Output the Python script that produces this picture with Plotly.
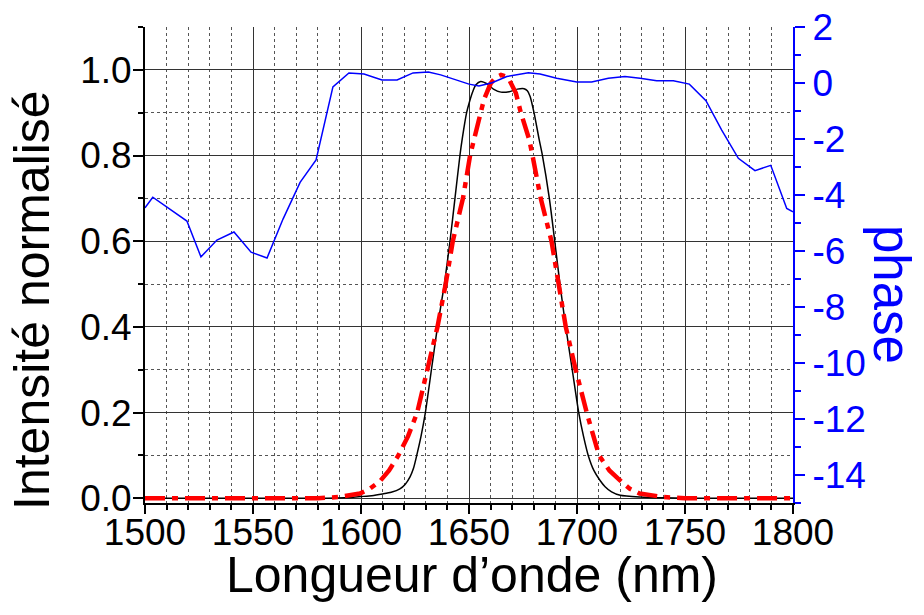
import plotly.graph_objects as go

# Simulated filter transmission (black solid line)
wl_sim = [1500, 1580, 1595, 1600, 1605, 1610, 1614, 1618, 1620.5, 1622.7, 1624.3,
          1625.8, 1627.8, 1629.8, 1632.6, 1635.4, 1638.6, 1641.2, 1643.5, 1645.8,
          1646.9, 1648.9, 1650.2, 1651.5, 1653.2, 1655.4, 1658.5, 1661.3, 1664.8,
          1668.6, 1672.4, 1675.5, 1677.0, 1678.3, 1680.1, 1682.5, 1684.0, 1687.2,
          1689.7, 1692.1, 1694.8, 1697.8, 1700.8, 1703.0, 1705.2, 1707.8, 1710.6,
          1713, 1716, 1720, 1729, 1740, 1760, 1800]
intensity_sim = [0.0, 0.0, 0.002, 0.004, 0.006, 0.01, 0.014, 0.022, 0.033, 0.05, 0.07,
                 0.1, 0.145, 0.2, 0.3, 0.4, 0.5, 0.6, 0.7, 0.8,
                 0.84, 0.9, 0.925, 0.946, 0.965, 0.973, 0.967, 0.955, 0.948,
                 0.949, 0.955, 0.956, 0.951, 0.938, 0.9, 0.837, 0.8, 0.7,
                 0.6, 0.5, 0.4, 0.3, 0.2, 0.145, 0.1, 0.065, 0.042,
                 0.027, 0.015, 0.007, 0.003, 0.001, 0.0, 0.0]

# Gaussian-like spectrum (red dash-dot line)
wl_gauss = [1500, 1580, 1590, 1599.5, 1604, 1608.8, 1613, 1617.3, 1621.8, 1626.0,
            1630.7, 1635.4, 1639.2, 1642.5, 1647.2, 1650.5, 1652.3, 1655.4, 1656.9,
            1660.0, 1662.5, 1664.8, 1666.8, 1668.6, 1671.7, 1674.0, 1677.9, 1679.4,
            1683.2, 1688.2, 1691.7, 1694.8, 1699.4, 1704.5, 1710.2, 1715, 1719.9,
            1724.5, 1729.0, 1739.8, 1750, 1800]
intensity_gauss = [0.0, 0.0, 0.003, 0.011, 0.022, 0.04, 0.065, 0.1, 0.145, 0.2,
                   0.3, 0.4, 0.5, 0.6, 0.7, 0.8, 0.837, 0.9, 0.93,
                   0.968, 0.983, 0.988, 0.985, 0.977, 0.946, 0.9, 0.837, 0.8,
                   0.7, 0.6, 0.5, 0.4, 0.3, 0.2, 0.1, 0.065, 0.042,
                   0.022, 0.011, 0.003, 0.0, 0.0]

# Spectral phase (blue line, right axis)
wl_phase = [1500, 1503.6, 1519.4, 1525.9, 1533.3, 1541.2, 1549.1, 1556.5, 1563.9,
            1571.8, 1579.2, 1587.0, 1594.4, 1601.4, 1609.7, 1616.7, 1624.1,
            1631.2, 1636.9, 1644.6, 1650.0, 1654.6, 1660.7, 1667.5, 1677.5,
            1682.9, 1690.6, 1699.9, 1706.8, 1714.5, 1722.2, 1729.2, 1736.9,
            1744.6, 1752.0, 1759.7, 1767.0, 1774.7, 1782.4, 1789.7, 1797.1, 1800]
phase = [-4.46, -4.08, -4.93, -6.21, -5.61, -5.32, -6.04, -6.25, -4.86,
         -3.55, -2.75, -0.14, 0.36, 0.32, 0.11, 0.11, 0.36,
         0.39, 0.29, 0.08, -0.04, -0.11, 0.01, 0.23, 0.37,
         0.32, 0.17, 0.04, 0.04, 0.17, 0.23, 0.17, 0.08,
         0.08, -0.04, -0.63, -1.68, -2.69, -3.13, -2.94, -4.48, -4.6]

x_ticks = [1500, 1550, 1600, 1650, 1700, 1750, 1800]
left_ticks = [0.0, 0.2, 0.4, 0.6, 0.8, 1.0]
left_ticktext = ["0.0", "0.2", "0.4", "0.6", "0.8", "1.0"]
right_ticks = [2, 0, -2, -4, -6, -8, -10, -12, -14]
right_ticktext = ["2", "0", "-2", "-4", "-6", "-8", "-10", "-12", "-14"]

FONT = "Arial, 'Liberation Sans', sans-serif"
BLUE = "#0000ff"

fig = go.Figure()
fig.add_trace(go.Scatter(x=wl_phase, y=phase, yaxis="y2", mode="lines",
                         line=dict(color=BLUE, width=1.5), hoverinfo="skip"))
fig.add_trace(go.Scatter(x=wl_sim, y=intensity_sim, mode="lines",
                         line=dict(color="black", width=1.5, shape="spline",
                                   smoothing=0.6),
                         hoverinfo="skip"))
fig.add_trace(go.Scatter(x=wl_gauss, y=intensity_gauss, mode="lines",
                         line=dict(color="#ff0000", width=4.5,
                                   dash="20px,7px,6px,7px"),
                         hoverinfo="skip"))

fig.update_layout(
    width=924, height=615,
    margin=dict(l=145, r=131, t=27, b=112, autoexpand=False),
    paper_bgcolor="white", plot_bgcolor="white",
    showlegend=False,
    font=dict(family=FONT, size=37, color="black"),
    xaxis=dict(
        range=[1500, 1800], tickmode="array", tickvals=x_ticks,
        ticks="outside", ticklen=9, tickwidth=2, tickcolor="black",
        showline=True, linecolor="black", linewidth=2,
        showgrid=True, gridcolor="#333333", gridwidth=1, zeroline=False,
        automargin=False, ticklabelstandoff=-13,
        tickfont=dict(size=37, color="black"),
        minor=dict(tick0=1500, dtick=10, ticks="outside", ticklen=5,
                   tickwidth=1.5, tickcolor="black", showgrid=True,
                   gridcolor="#555555", griddash="dot", gridwidth=1),
    ),
    xaxis2=dict(
        overlaying="x", anchor="y", side="top", range=[1500, 1800],
        tickmode="array", tickvals=x_ticks,
        ticks="inside", ticklen=9, tickwidth=2, tickcolor="black",
        showticklabels=False, showline=True, linecolor="black", linewidth=2,
        showgrid=False, zeroline=False, automargin=False,
        minor=dict(tick0=1500, dtick=10, ticks="inside", ticklen=5,
                   tickwidth=1.5, tickcolor="black", showgrid=False),
    ),
    yaxis=dict(
        range=[-0.011, 1.1], tickmode="array", tickvals=left_ticks,
        ticktext=left_ticktext,
        ticks="outside", ticklen=10, tickwidth=2, tickcolor="black",
        showline=True, linecolor="black", linewidth=2,
        showgrid=True, gridcolor="#333333", gridwidth=1, zeroline=False,
        automargin=False, ticklabelstandoff=-6,
        tickfont=dict(size=37, color="black"),
        minor=dict(tick0=0, dtick=0.1, ticks="outside", ticklen=5,
                   tickwidth=1.5, tickcolor="black", showgrid=True,
                   gridcolor="#555555", griddash="dot", gridwidth=1),
    ),
    yaxis2=dict(
        overlaying="y", anchor="x", side="right", range=[-15, 2],
        tickmode="array", tickvals=right_ticks, ticktext=right_ticktext,
        ticks="outside", ticklen=10, tickwidth=2, tickcolor=BLUE,
        showline=True, linecolor=BLUE, linewidth=2,
        showgrid=False, zeroline=False, automargin=False,
        tickfont=dict(size=37, color=BLUE),
        minor=dict(tick0=0, dtick=1, ticks="outside", ticklen=6,
                   tickwidth=1.5, tickcolor=BLUE, showgrid=False),
    ),
    annotations=[
        dict(text="Longueur d’onde (nm)", xref="paper", yref="paper",
             x=0.505, y=(503 - 575) / 476, xanchor="center", yanchor="middle",
             showarrow=False, font=dict(size=50, color="black")),
        dict(text="Intensité normalisé", xref="paper", yref="paper",
             x=(32 - 145) / 648, y=(503 - 300) / 476, xanchor="center",
             yanchor="middle", textangle=-90, showarrow=False,
             font=dict(size=50, color="black")),
        dict(text="phase", xref="paper", yref="paper",
             x=(892 - 145) / 648, y=(503 - 295) / 476, xanchor="center",
             yanchor="middle", textangle=90, showarrow=False,
             font=dict(size=51, color=BLUE)),
    ],
)

fig.write_html("out.html")
